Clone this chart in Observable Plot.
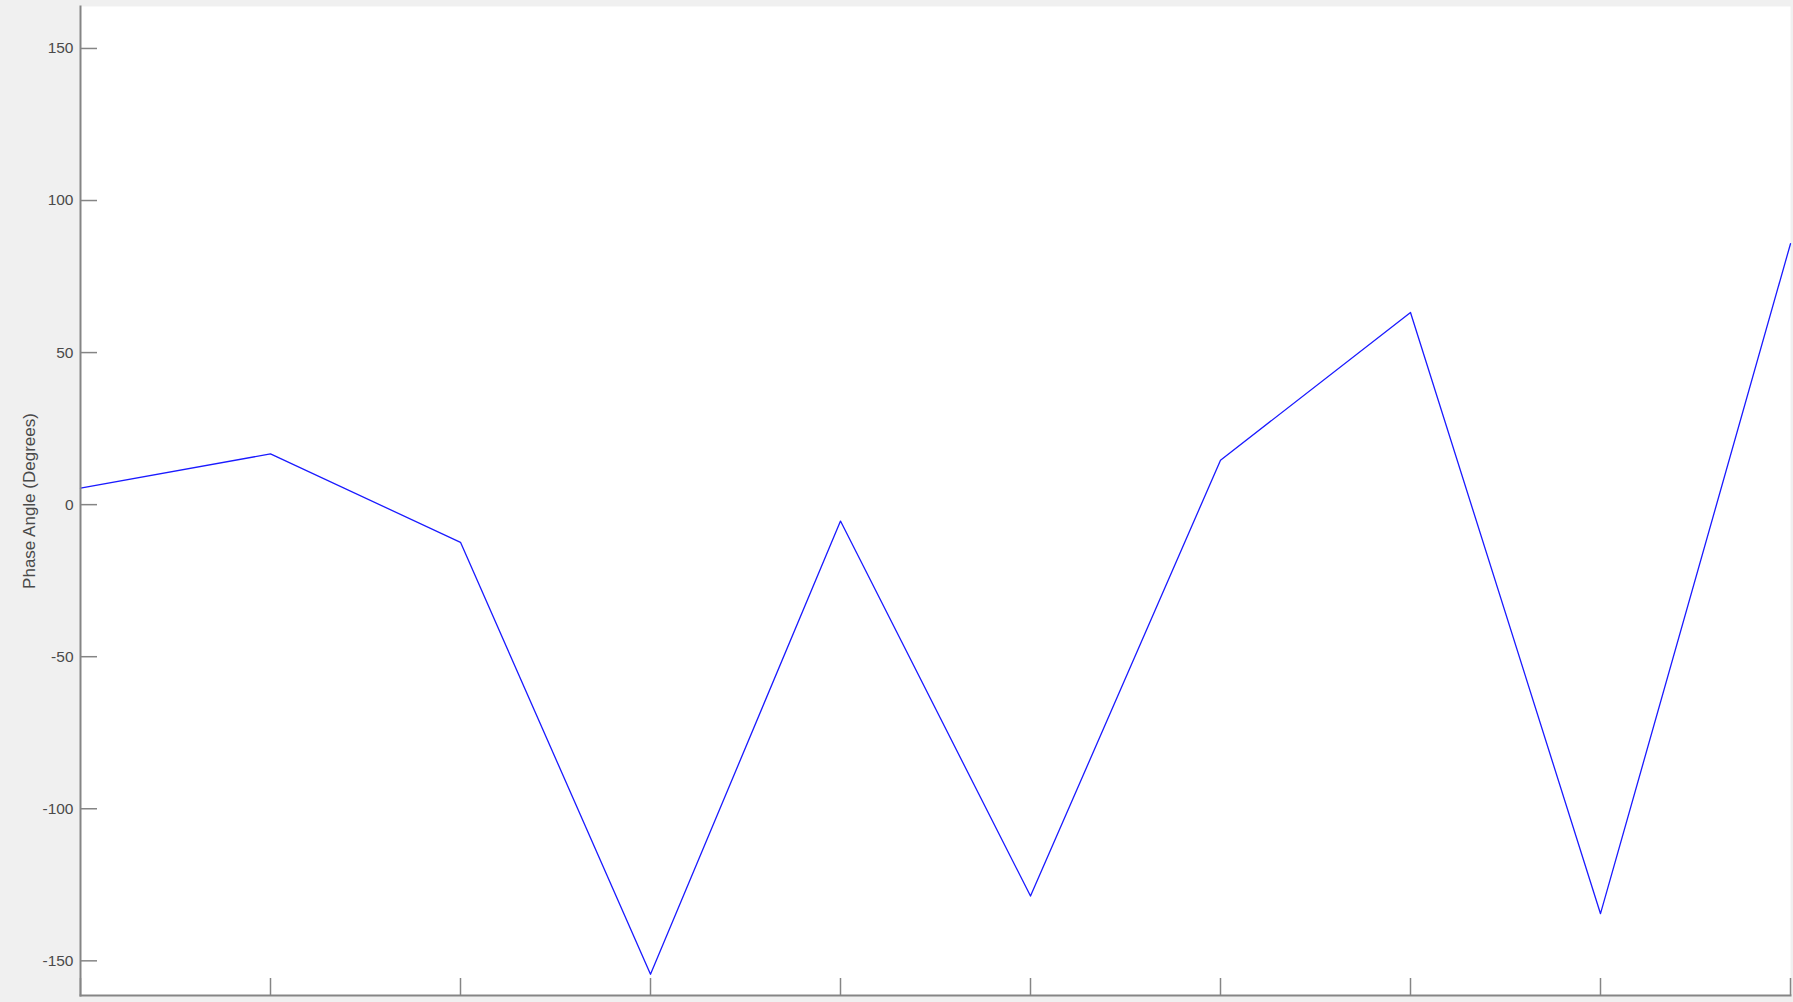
<!DOCTYPE html>
<html>
<head>
<meta charset="utf-8">
<script src="https://cdn.jsdelivr.net/npm/d3@7"></script>
<script src="https://cdn.jsdelivr.net/npm/@observablehq/plot@0.6"></script>
<style>
  html, body { margin: 0; padding: 0; background: #f0f0f0; overflow: hidden; }
  #chart svg { display: block; }
</style>
</head>
<body>
<div id="chart"></div>
<script>
// Sample index (1..10) and phase angle in degrees
const sampleIndex = [1, 2, 3, 4, 5, 6, 7, 8, 9, 10];
const phaseDeg = [5.4, 16.7, -12.4, -154.4, -5.4, -128.7, 14.6, 63.2, -134.5, 85.8];
const yTicks = [-150, -100, -50, 0, 50, 100, 150];
const xTicks = sampleIndex;
const yDomain = [-161.4, 163.8];

const data = sampleIndex.map((x, i) => ({x, y: phaseDeg[i]}));
const axisColor = "#858585";

const chart = Plot.plot({
  width: 1793,
  height: 1002,
  marginLeft: 80,
  marginRight: 3,
  marginTop: 6,
  marginBottom: 7,
  style: {
    fontFamily: "'Liberation Sans', Arial, sans-serif",
    fontSize: "15px",
    color: "#4a4a4a",
    background: "transparent"
  },
  x: {domain: [1, 10]},
  y: {domain: yDomain},
  marks: [
    Plot.frame({fill: "white", stroke: null}),
    Plot.line(data, {x: "x", y: "y", stroke: "#1a1aff", strokeWidth: 1.3}),
    Plot.frame({anchor: "left", stroke: axisColor, strokeWidth: 2}),
    Plot.frame({anchor: "bottom", stroke: axisColor, strokeWidth: 2}),
    // Y tick labels (plain hyphen for negatives)
    Plot.axisY({
      ticks: yTicks,
      tickSize: -17,
      tickPadding: 24,
      tickFormat: (d) => String(d),
      stroke: axisColor,
      strokeWidth: 1.5,
      label: null,
      fontSize: 15.5
    }),
    // Y axis title
    Plot.axisY({
      ticks: [],
      tickSize: 0,
      label: "Phase Angle (Degrees)",
      labelAnchor: "center",
      labelArrow: "none",
      labelOffset: 58,
      fontSize: 17
    }),
    Plot.axisX({
      ticks: xTicks,
      tickSize: -17,
      stroke: axisColor,
      strokeWidth: 1.5,
      tickFormat: () => "",
      label: null
    })
  ]
});

document.getElementById("chart").append(chart);
</script>
</body>
</html>
